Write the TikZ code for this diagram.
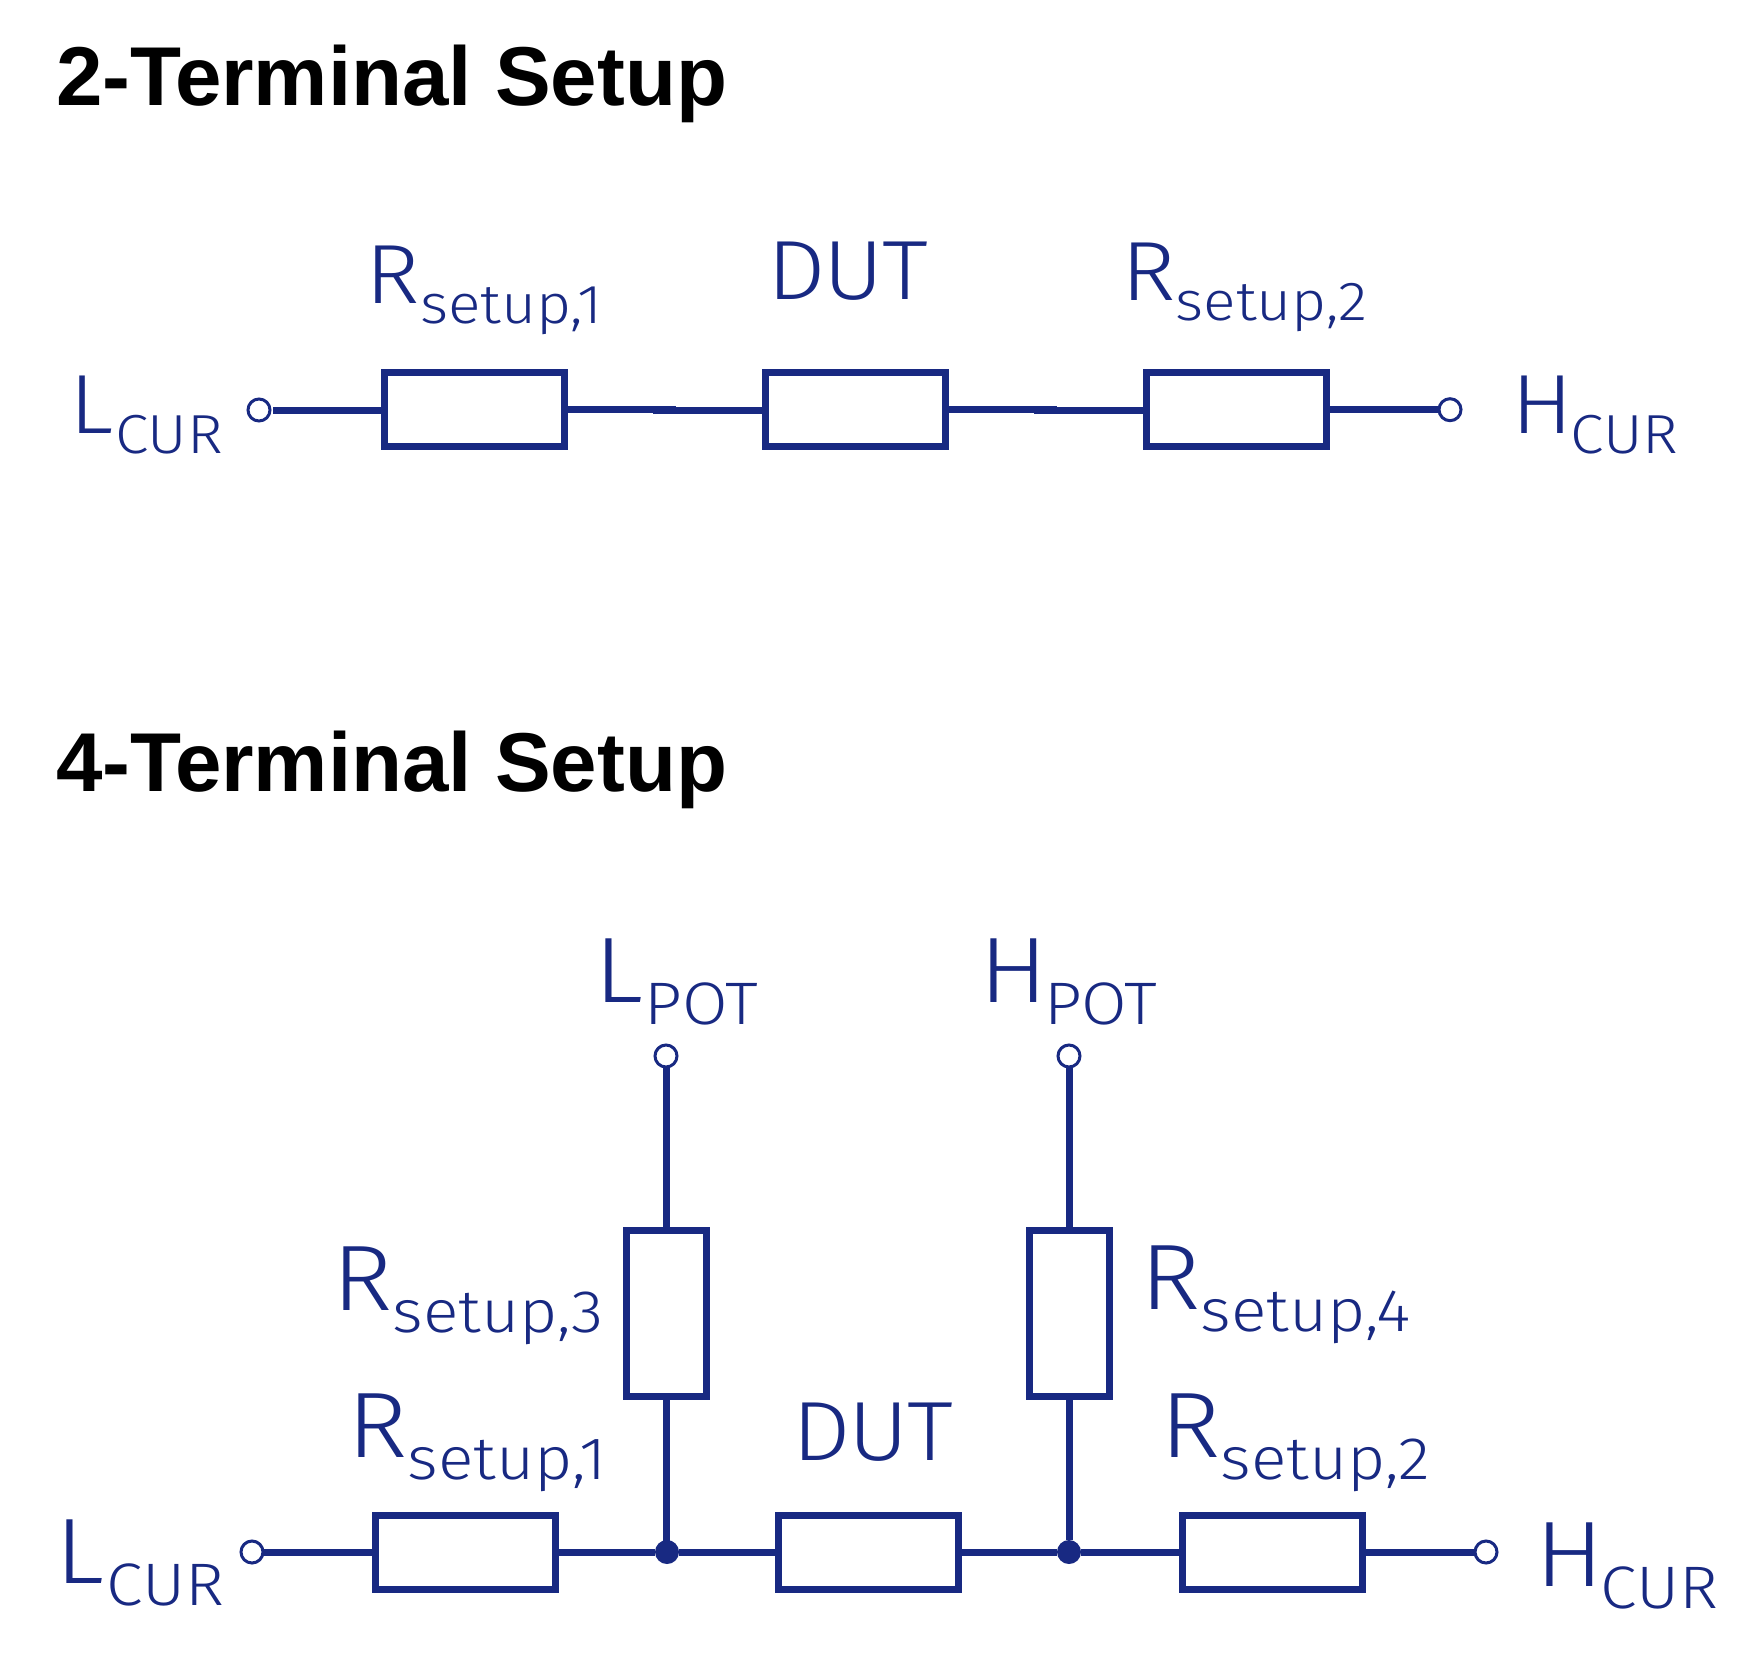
\documentclass[tikz,border=0pt]{standalone}
\usepackage{fontspec}
\setmainfont{Liberation Sans}
\newfontfamily\labfont[FakeStretch=1.1]{Fira Sans Light}
\definecolor{wire}{HTML}{182982}
\newcommand{\toplab}[2]{{\labfont\fontsize{84}{84}\selectfont #1}\raisebox{-20pt}{\labfont\fontsize{55}{55}\selectfont #2}}
\newcommand{\botlab}[2]{{\labfont\fontsize{93}{93}\selectfont #1}\raisebox{-22pt}{\labfont\fontsize{60}{60}\selectfont #2}}
\tikzset{
  x=1pt,y=-1pt,
  hbox/.style={draw=wire,line width=7pt,fill=white,minimum width=180pt,minimum height=74pt,inner sep=0pt,outer sep=0pt},
  vbox/.style={draw=wire,line width=7pt,fill=white,minimum width=80pt,minimum height=166pt,inner sep=0pt,outer sep=0pt},
  term/.style={circle,draw=wire,line width=3pt,fill=white,minimum size=22pt,inner sep=0pt,outer sep=0pt},
  junction/.style={circle,fill=wire,minimum size=24pt,inner sep=0pt,outer sep=0pt},
  wireline/.style={draw=wire,line width=7pt},
  txt/.style={anchor=base west,inner sep=0pt,outer sep=0pt,text=wire},
  heading/.style={anchor=base west,inner sep=0pt,outer sep=0pt,text=black,font=\fontsize{83.5}{84}\selectfont\bfseries},
}
\begin{document}
\begin{tikzpicture}
\useasboundingbox (0,0) rectangle (1758,1665);
\node[heading] (t1) at (56,105) {2-Terminal Setup};
\node[heading] (t2) at (56,791) {4-Terminal Setup};

% 2-terminal
\node[hbox] (a1) at (474.5,409.5) {};
\node[hbox] (a2) at (855.5,409.5) {};
\node[hbox] (a3) at (1236,409.5) {};
\node[term] (aL) at (259,410) {};
\node[term] (aH) at (1450,409.7) {};
\coordinate (s1a) at (676,409.3);
\coordinate (s1b) at (653,410.3);
\coordinate (s2a) at (1057,409.3);
\coordinate (s2b) at (1034,410.3);
\draw[wireline,shorten <=3pt] (aL.east) -- (aL.east -| a1.west);
\draw[wireline] (s1a -| a1.east) -- (s1a);
\draw[wireline] (s1b) -- (s1b -| a2.west);
\draw[wireline] (s2a -| a2.east) -- (s2a);
\draw[wireline] (s2b) -- (s2b -| a3.west);
\draw[wireline] (aH.west -| a3.east) -- (aH.west);
\node[txt] (lR1) at (365.5,303) {\toplab{R}{setup,1}};
\node[txt] (lD1) at (767.5,299) {\toplab{D\kern-2pt U\kern-2pt T}{}};
\node[txt] (lR2) at (1121,300) {\toplab{R}{setup,2}};
\node[txt] (lLc) at (69,433) {\toplab{L\kern2pt}{CUR}};
\node[txt] (lHc) at (1511.5,433) {\toplab{H\kern-3pt}{CUR}};

% 4-terminal
\node[hbox] (b1) at (465,1552) {};
\node[hbox] (b2) at (868.5,1552) {};
\node[hbox] (b3) at (1272.5,1552) {};
\node[vbox] (v1) at (666,1313.5) {};
\node[vbox] (v2) at (1069,1313.5) {};
\node[term] (bL) at (252,1552) {};
\node[term] (bH) at (1486,1552) {};
\node[term] (pL) at (666,1056) {};
\node[term] (pH) at (1069,1056) {};
\node[junction] (j1) at (667,1552) {};
\node[junction] (j2) at (1069,1552) {};
\draw[wireline] (bL.east) -- (b1.west);
\draw[wireline] (b1.east) -- (j1);
\draw[wireline] (j1) -- (b2.west);
\draw[wireline] (b2.east) -- (j2);
\draw[wireline] (j2) -- (b3.west);
\draw[wireline] (b3.east) -- (bH.west);
\draw[wireline] (pL.south) -- (v1.north);
\draw[wireline] (pH.south) -- (v2.north);
\draw[wireline] (v1.south) -- (v1.south |- j1.center);
\draw[wireline] (v2.south) -- (j2);
\node[txt] (l3) at (332.5,1310) {\botlab{R}{setup,3}};
\node[txt] (l4) at (1140.5,1309) {\botlab{R}{setup,4}};
\node[txt] (l1) at (347.5,1457) {\botlab{R}{setup,1}};
\node[txt] (l2) at (1160.5,1457) {\botlab{R}{setup,2}};
\node[txt] (lD2) at (792.5,1460) {\toplab{D\kern-2pt U\kern-2pt T}{}};
\node[txt] (lL2) at (55,1583) {\botlab{L\kern3pt}{CUR}};
\node[txt] (lH2) at (1535,1586) {\botlab{H\kern-3pt}{CUR}};
\node[txt] (lLp) at (594,1002) {\botlab{L\kern2pt}{POT}};
\node[txt] (lHp) at (979.5,1002) {\botlab{H\kern-4pt}{POT}};
\end{tikzpicture}
\end{document}
